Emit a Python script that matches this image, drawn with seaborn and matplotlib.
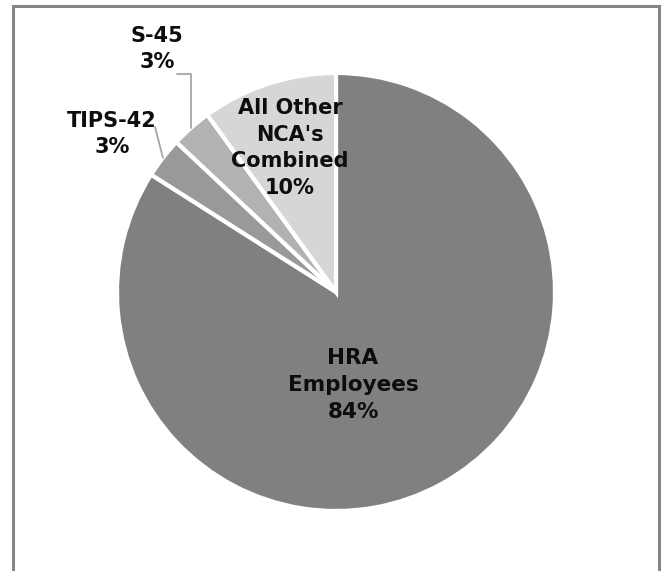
import numpy as np
import matplotlib
matplotlib.use("Agg")
import matplotlib.pyplot as plt
from matplotlib.patches import Rectangle
import seaborn as sns

# Share of the workforce by group
categories = ["HRA\nEmployees", "TIPS-42", "S-45", "All Other\nNCA's\nCombined"]
shares = [84, 3, 3, 10]
colors = ["#808080", "#999999", "#b2b2b2", "#d6d6d6"]

sns.set_theme(style="white")
plt.rcParams["font.family"] = ["DejaVu Sans"]

W, H = 666, 571
fig = plt.figure(figsize=(W / 100, H / 100), dpi=100)

# chart-area frame
fig.patches.append(Rectangle((12.5 / W, -0.05), (658.5 - 12.5) / W, 1.05 - 5.5 / H,
                             transform=fig.transFigure, fill=False,
                             edgecolor="#858585", linewidth=2.2))

cx, cy, R = 336, 292, 219
ax = fig.add_axes([(cx - R) / W, (H - cy - R) / H, 2 * R / W, 2 * R / H])

wedges, _ = ax.pie(shares, colors=colors, startangle=90, counterclock=False,
                   radius=1, wedgeprops=dict(edgecolor="white", linewidth=3))
ax.set_xlim(-1, 1)
ax.set_ylim(-1, 1)
ax.set_aspect("equal")
ax.axis("off")

def px(x, y):
    return (x - cx) / R, (cy - y) / R

def mid_angle(w):
    return np.deg2rad((w.theta1 + w.theta2) / 2)

txt = dict(ha="center", va="center", fontweight="bold", color="#0d0d0d",
           linespacing=1.42)

# inside labels
ax.text(*px(353, 385), f"{categories[0]}\n{shares[0]}%", fontsize=15.5, **txt)
ax.text(*px(290, 148), f"{categories[3]}\n{shares[3]}%", fontsize=15, **txt)

# outside labels with leader lines
ax.text(*px(112, 134), f"{categories[1]}\n{shares[1]}%", fontsize=15, **txt)
a = mid_angle(wedges[1])
x0, y0 = px(155, 127)
ax.plot([x0, np.cos(a)], [y0, np.sin(a)], color="#a6a6a6", lw=1.3)

ax.text(*px(157, 49), f"{categories[2]}\n{shares[2]}%", fontsize=15, **txt)
a = mid_angle(wedges[2])
x0, y0 = px(177, 74)
ax.plot([x0, np.cos(a), np.cos(a)], [y0, y0, np.sin(a)], color="#a6a6a6", lw=1.3)

fig.savefig("out.png", dpi=100)
